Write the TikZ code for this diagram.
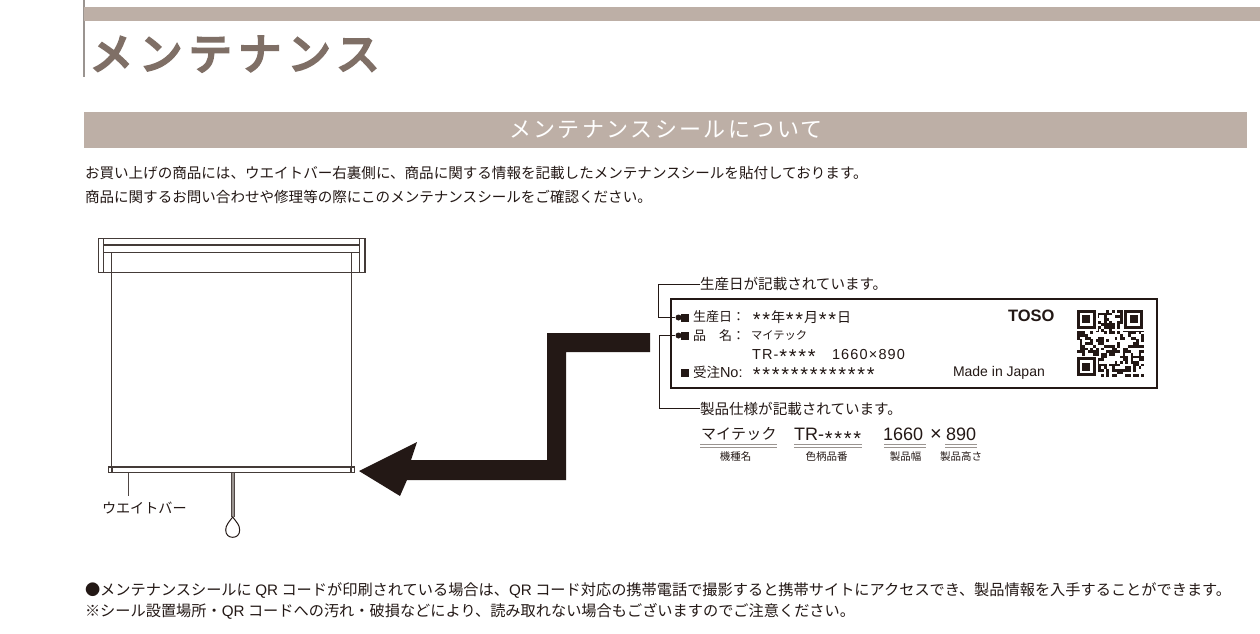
\documentclass[tikz,border=0pt]{standalone}
\usepackage{fontspec}
\usetikzlibrary{positioning}
\setmainfont{Noto Sans CJK JP}
\newfontfamily\latinfont{Liberation Sans}
\newfontfamily\titlefont[FakeBold=6,LetterSpace=15]{Noto Sans CJK JP}
\newfontfamily\bandfont[LetterSpace=11]{Noto Sans CJK JP}
\newfontfamily\widelatin[LetterSpace=8]{Liberation Sans}
\definecolor{band}{HTML}{BDAFA6}
\definecolor{titlecol}{HTML}{7F6F66}
\definecolor{inkblack}{HTML}{231815}
\definecolor{linegray}{HTML}{9A9490}
\newcommand{\fs}[1]{\fontsize{#1}{#1}\selectfont}
\newcommand{\astr}{\makebox[9.5pt]{\raisebox{-.33em}{\latinfont\fs{20}*}}}

\begin{document}
\begin{tikzpicture}[x=1pt,y=-1pt]
  \tikzstyle{txt}=[inner sep=0,outer sep=0,anchor=west,text=inkblack]
  \tikzstyle{val}=[inner sep=0,outer sep=0,anchor=base west,text=inkblack]
  \tikzstyle{body}=[txt,font=\fs{14.55}]
  \tikzstyle{foot}=[txt,font=\fs{15.2}]
  \tikzstyle{lab}=[txt,font=\fs{13}]
  \tikzstyle{sub}=[inner sep=0,text=inkblack,font=\fs{10.5}]
  \tikzstyle{big}=[val,font=\fs{18}\latinfont]
  \tikzstyle{blind}=[draw=inkblack!85,line width=1.2pt]
  \tikzstyle{leader}=[draw=inkblack,line width=1pt]
  \tikzstyle{dot}=[circle,fill=inkblack,inner sep=0,minimum size=6pt]
  \tikzstyle{sq}=[rectangle,fill=inkblack,inner sep=0,minimum size=8pt]
  \tikzstyle{rule}=[draw=linegray,line width=1.2pt]
  \useasboundingbox (0,0) rectangle (1260,633);
  \fill[white] (0,0) rectangle (1260,633);
% header
  \draw[linegray,line width=1.4pt] (84,0) -- (84,77);
  \fill[band] (84,7) rectangle (1260,21);
  \fill[band] (84,112) rectangle (1247,148);
  \node[txt,text=titlecol,font=\fs{43}\titlefont] (title) at (90,54) {メンテナンス};
  \node[inner sep=0,text=white,font=\fs{22}\bandfont] (bandtitle) at (666,129.5) {メンテナンスシールについて};
  \node[body] (introa) at (85,173) {お買い上げの商品には、ウエイトバー右裏側に、商品に関する情報を記載したメンテナンスシールを貼付しております。};
  \node[body] (introb) at (85,197) {商品に関するお問い合わせや修理等の際にこのメンテナンスシールをご確認ください。};
% blind
  \draw[blind] (98.5,238.5) rectangle (365,272.5);
  \draw[blind] (103.5,238.5) -- (103.5,272.5) (359.5,238.5) -- (359.5,272.5);
  \draw[blind] (103.5,245) -- (359.5,245) (103.5,252.5) -- (359.5,252.5);
  \draw[blind] (111.5,252.5) -- (111.5,467) (351.5,252.5) -- (351.5,467);
  \draw[blind] (108.5,467) rectangle (354.5,472.5);
  \draw[blind] (112,467) -- (112,472.5) (351,467) -- (351,472.5);
  \node[lab,font=\fs{14.1}] (barlabel) at (102,507.5) {ウエイトバー};
  \coordinate (bartick) at (128.5,472.5);
  \coordinate (bartickend) at (128.5,496);
  \draw[draw=inkblack!80,line width=.7pt] (bartick) -- (bartickend);
  \coordinate (cordtop) at (232.7,472.5);
  \coordinate (cordend) at (232.7,517);
  \draw[draw=linegray,line width=2.8pt] (cordtop) -- (cordend);
  \draw[draw=inkblack!80,line width=.5pt] (231.2,472.5) -- (231.2,517) (234.2,472.5) -- (234.2,517);
  \draw[draw=inkblack,line width=1pt,fill=white] (232.7,517) .. controls (229,522) and (225.7,525) .. (225.7,530) .. controls (225.7,535) and (229,537.3) .. (232.7,537.3) .. controls (236.4,537.3) and (239.7,535) .. (239.7,530) .. controls (239.7,525) and (236.4,522) .. (232.7,517) -- cycle;
% big arrow
  \fill[inkblack] (359,471) -- (417,442) -- (411,460) -- (547,460) -- (547,333) -- (650,333) -- (650,352) -- (566,352) -- (566,480) -- (407,480) -- (400,496) -- cycle;
% seal
  \draw[draw=inkblack,line width=1.5pt] (671,299) rectangle (1157,388);
  \node[dot] (dotdate) at (678.5,317.5) {};
  \node[sq] (sqdate) at (685,317.5) {};
  \node[dot] (dotspec) at (678.5,335.5) {};
  \node[sq] (sqspec) at (685,335.5) {};
  \node[sq] (sqorder) at (685,372.5) {};
  \node[lab] (datekey) at (693,317) {生産日：};
  \node[val,font=\fs{14}] (dateval) at (752,322) {\astr\astr 年\astr\astr 月\astr\astr 日};
  \node[lab] (speckey) at (693,335.5) {品　名：};
  \node[lab,font=\fs{11.3}] (specname) at (751,335.5) {マイテック};
  \node[val,font=\fs{14.5}\widelatin] (specval) at (752,359) {TR-\astr\astr\astr\astr};
  \node[val,font=\fs{14.5}\widelatin] (specsize) at (832,359) {1660×890};
  \node[lab,font=\fs{13.5}] (orderkey) at (693,372) {受注{\latinfont\fs{14.5}No:}};
  \node[val,font=\fs{13.2}\latinfont] (orderval) at (752,377) {\astr\astr\astr\astr\astr\astr\astr\astr\astr\astr\astr\astr\astr};
  \node[txt,font=\fs{16.5}\latinfont\bfseries] (brand) at (1008,316) {TOSO};
  \node[lab,font=\fs{14}\latinfont] (madein) at (953,372.5) {Made in Japan};
% qr
  \foreach \i in {0,...,24}
    \foreach \j in {0,...,24} {
      \pgfmathtruncatemacro{\cell}{mod(mod((\i+3)*(\j+5),31)*(mod(\i*\j+\i+7,17)+1)+\j*\j,7)}
      \ifnum\cell<3
        \fill[inkblack] ({1077+2.68*\i},{310+2.68*\j}) rectangle ++(2.78,2.78);
      \fi
    }
  \foreach \cx/\cy in {1077/310,1124.2/310,1077/357.2} {
    \fill[white] (\cx-1,\cy-1) rectangle ++(22,22);
    \fill[inkblack] (\cx,\cy) rectangle ++(18.8,18.8);
    \fill[white] (\cx+2.7,\cy+2.7) rectangle ++(13.4,13.4);
    \fill[inkblack] (\cx+5.4,\cy+5.4) rectangle ++(8,8);
  }
% notes and leaders
  \node[body] (datenote) at (700,284) {生産日が記載されています。};
  \node[body] (specnote) at (700,408.5) {製品仕様が記載されています。};
  \coordinate (bendA) at (658,284);
  \coordinate (bendB) at (659,408.5);
  \draw[leader] (datenote.west) -- (bendA) |- (dotdate);
  \draw[leader] (specnote.west) -- (bendB) |- (dotspec);
% breakdown
  \node[txt,font=\fs{15}] (model) at (701,433.5) {\addfontfeature{LetterSpace=1.5}マイテック};
  \node[big] (colour) at (794,440) {TR-\astr\astr\astr\astr};
  \node[big] (width) at (883,440) {1660};
  \node[big,font=\fs{20}\latinfont] (times) at (930,440) {×};
  \node[big] (height) at (946,440) {890};
  \foreach \a/\b in {700/777,794/862,884/926,945/977} {
    \draw[rule] (\a,444.5) -- (\b,444.5);
    \draw[rule] (\a,447.5) -- (\b,447.5);
  }
  \node[sub] (subm) at (735.5,456.5) {機種名};
  \node[sub] (subc) at (826.5,456.5) {色柄品番};
  \node[sub] (subw) at (905.5,456.5) {製品幅};
  \node[sub] (subh) at (961,456.5) {製品高さ};
% footer
  \node[foot] (foota) at (85,590) {●メンテナンスシールに {\latinfont QR} コードが印刷されている場合は、{\latinfont QR} コード対応の携帯電話で撮影すると携帯サイトにアクセスでき、製品情報を入手することができます。};
  \node[foot] (footb) at (85,611) {※シール設置場所・{\latinfont QR} コードへの汚れ・破損などにより、読み取れない場合もございますのでご注意ください。};
\end{tikzpicture}
\end{document}
